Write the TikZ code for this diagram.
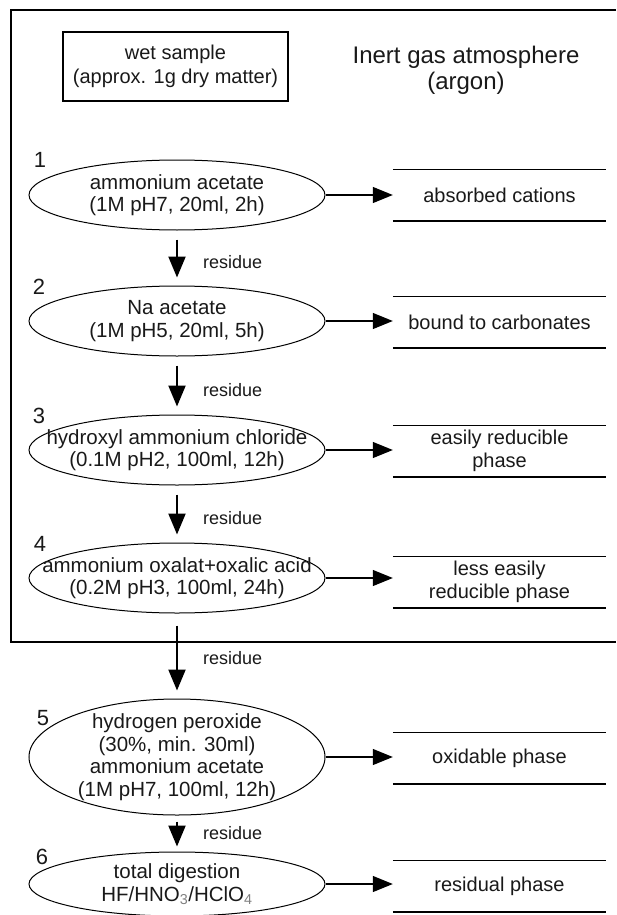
\documentclass[tikz,border=0pt]{standalone}
\usepackage{fontspec}
\setmainfont{Liberation Sans}
\usetikzlibrary{arrows.meta, shapes.geometric}

\begin{document}
\begin{tikzpicture}[x=1pt, y=-1pt, text=black!90,
    stage/.style={draw, ellipse, line width=1pt, minimum width=296pt, minimum height=70pt, inner sep=0pt},
    stagetext/.style={align=center, inner sep=0pt, font=\fontsize{20.5}{22.5}\selectfont},
    stepnum/.style={inner sep=0pt, font=\fontsize{22}{22}\selectfont},
    fraction/.style={minimum width=213pt, minimum height=51pt, align=center, inner sep=0pt, font=\fontsize{20}{23}\selectfont},
    rule/.style={line width=1.6pt},
    resid/.style={anchor=west, xshift=25pt, inner sep=0pt, font=\fontsize{18}{18}\selectfont},
    goes/.style={-{Triangle[length=20pt, width=16pt]}, line width=1.2pt},
    resarrow/.style={-{Triangle[length=21pt, width=17pt]}, line width=2.2pt, shorten <=9pt, shorten >=8pt}]
    \useasboundingbox (0,0) rectangle (616,915);

    % inert gas frame
    \draw [line width=2pt] (616,10) -- (10.5,10) -- (10.5,642) -- (616,642);
    \node [draw, line width=1.5pt, minimum width=225pt, minimum height=69pt, align=center,
           font=\fontsize{20}{24}\selectfont] (sample) at (175.5,66.5) {wet sample\\(approx. 1g dry matter)};
    \node [align=center, font=\fontsize{24}{26}\selectfont] (inert) at (466,70) {Inert gas atmosphere\\(argon)};

    % extraction steps
    \node [stage] (s1) at (177,195) {};
    \node [stage] (s2) at (177,321) {};
    \node [stage] (s3) at (177,450) {};
    \node [stage] (s4) at (177,578) {};
    \node [stage, minimum height=116pt] (s5) at (177,757) {};
    \node [stage, minimum height=64pt] (s6) at (177,884) {};

    \node [stagetext] (t1) at (s1) {ammonium acetate\\(1M pH7, 20ml, 2h)};
    \node [stagetext] (t2) at (s2) {Na acetate\\(1M pH5, 20ml, 5h)};
    \node [stagetext] (t3) at (s3) {hydroxyl ammonium chloride\\(0.1M pH2, 100ml, 12h)};
    \node [stagetext] (t4) at (s4) {ammonium oxalat+oxalic acid\\(0.2M pH3, 100ml, 24h)};
    \node [stagetext] (t5) at (s5) {hydrogen peroxide\\(30\%, min. 30ml)\\ammonium acetate\\(1M pH7, 100ml, 12h)};
    \node [stagetext] (t6) at (s6) {total digestion\\HF/HNO\textsubscript{\color{gray}3}/HClO\textsubscript{\color{gray}4}};

    \node [stepnum] (n1) at (40,160) {1};
    \node [stepnum] (n2) at (39,287) {2};
    \node [stepnum] (n3) at (39,416) {3};
    \node [stepnum] (n4) at (40,544) {4};
    \node [stepnum] (n5) at (43,718) {5};
    \node [stepnum] (n6) at (42,857) {6};

    % fractions
    \node [fraction] (f1) at (499.5,195) {absorbed cations};
    \node [fraction] (f2) at (499.5,322) {bound to carbonates};
    \node [fraction] (f3) at (499.5,451) {easily reducible\\phase};
    \node [fraction] (f4) at (499.5,582) {less easily\\reducible phase};
    \node [fraction] (f5) at (499.5,758) {oxidable phase};
    \node [fraction] (f6) at (499.5,886) {residual phase};
    \foreach \f in {f1,f2,f3,f4,f5,f6}
        \draw [rule] (\f.north west) -- (\f.north east) (\f.south west) -- (\f.south east);

    \draw [goes] (s1.east) -- (s1.east -| f1.west);
    \draw [goes] (s2.east) -- (s2.east -| f2.west);
    \draw [goes] (s3.east) -- (s3.east -| f3.west);
    \draw [goes] (s4.east) -- (s4.east -| f4.west);
    \draw [goes] (s5.east) -- (s5.east -| f5.west);
    \draw [goes] (s6.east) -- (s6.east -| f6.west);

    % residue
    \draw [resarrow] (s1.south) -- node [resid, pos=0.57] (r1) {residue} (s2.north);
    \draw [resarrow] (s2.south) -- node [resid, pos=0.58] (r2) {residue} (s3.north);
    \draw [resarrow] (s3.south) -- node [resid, pos=0.58] (r3) {residue} (s4.north);
    \draw [resarrow, shorten <=12pt] (s4.south) -- node [resid, pos=0.52] (r4) {residue} (s5.north);
    \draw [resarrow, shorten <=6pt, shorten >=5pt] (s5.south) -- node [resid, pos=0.49] (r5) {residue} (s6.north);
\end{tikzpicture}
\end{document}
